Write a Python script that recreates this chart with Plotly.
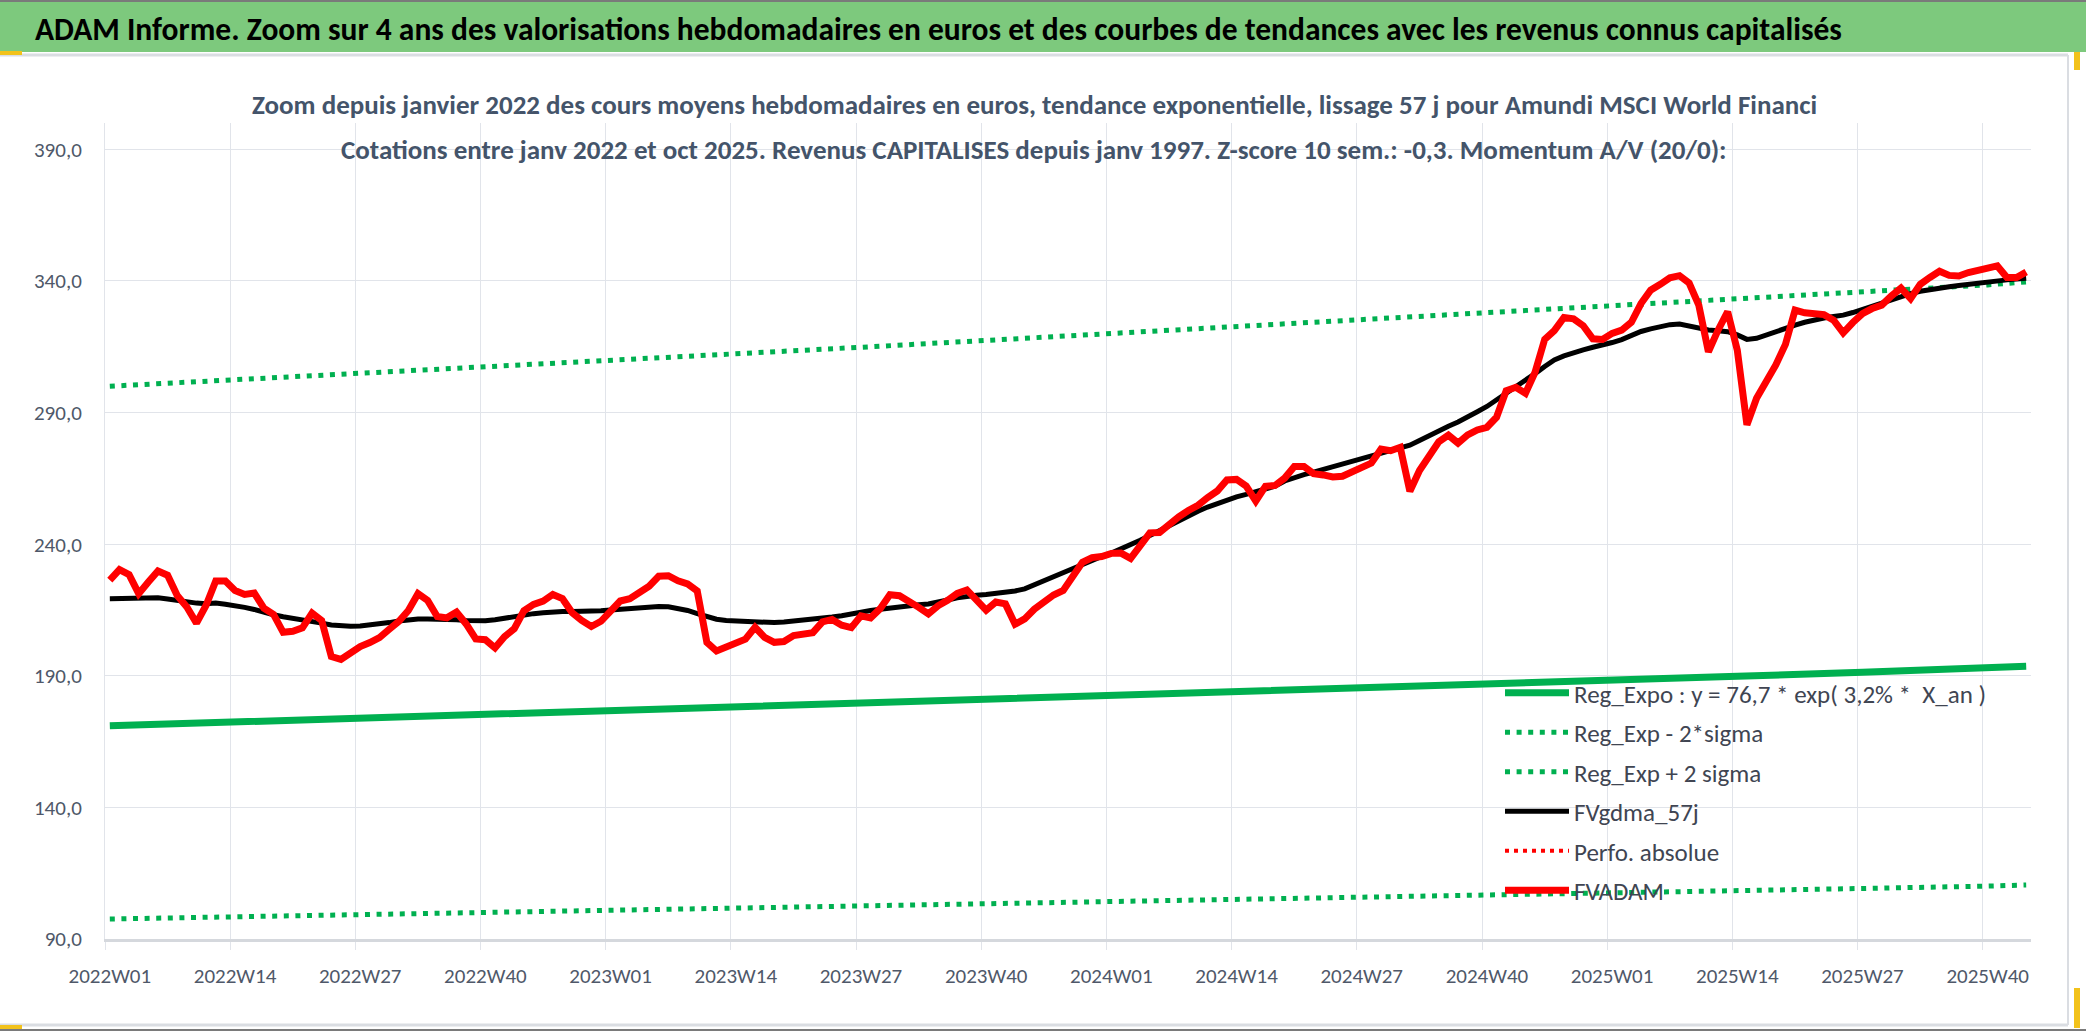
import plotly.graph_objects as go

W, H = 2086, 1031
L, R, T, B = 105, 2031, 123, 939

weeks = [f"{y}W{w:02d}" for y in (2022, 2023, 2024, 2025) for w in range(1, 53)][:200]

fvadam = [226.3, 230.3, 228.4, 221.2, 225.6, 229.8, 228.2, 220.5, 216.1, 210.0,
          216.8, 226.0, 226.0, 222.4, 220.9, 221.4, 215.7, 213.3, 206.5, 206.9,
          208.2, 213.8, 211.0, 197.3, 196.2, 198.7, 201.1, 202.6, 204.5, 207.6,
          210.6, 214.8, 221.2, 218.6, 212.5, 212.0, 214.2, 209.7, 204.0, 203.7,
          200.6, 204.9, 207.9, 214.7, 217.1, 218.4, 220.9, 219.3, 214.0, 211.0,
          208.7, 210.7, 214.8, 218.4, 219.3, 221.3, 224.0, 227.8, 228.0, 226.1,
          224.9, 222.2, 202.7, 199.4, 200.7, 202.5, 203.9, 208.4, 204.6, 202.7,
          203.0, 205.3, 205.9, 206.4, 210.5, 211.4, 209.2, 208.3, 212.8, 212.0,
          215.5, 220.8, 220.4, 218.4, 216.0, 213.5, 216.6, 218.7, 221.3, 222.6,
          218.9, 214.9, 218.0, 217.3, 209.6, 211.6, 215.3, 218.4, 220.7, 222.4,
          227.4, 233.1, 234.9, 235.3, 236.5, 236.6, 234.6, 239.5, 244.3, 244.4,
          247.7, 250.4, 252.8, 254.8, 257.7, 260.2, 264.4, 264.6, 262.1, 256.4,
          262.0, 262.3, 265.1, 269.5, 269.5, 266.8, 266.3, 265.5, 265.8, 267.7,
          269.5, 270.8, 276.1, 275.5, 276.8, 260.1, 268.0, 273.9, 278.9, 281.4,
          278.4, 281.5, 283.4, 284.4, 288.2, 298.3, 299.6, 297.3, 305.3, 317.8,
          321.1, 326.1, 325.6, 323.0, 318.0, 317.8, 320.1, 321.3, 324.3, 331.4,
          336.5, 338.7, 341.2, 342.0, 339.2, 330.8, 313.1, 321.3, 328.3, 313.7,
          285.3, 295.4, 301.4, 308.1, 315.9, 328.9, 327.9, 327.6, 327.2, 325.1,
          320.3, 324.2, 327.6, 329.5, 330.8, 334.3, 337.3, 333.3, 338.7, 341.3,
          343.7, 342.1, 341.9, 343.2, 344.2, 345.1, 345.7, 341.3, 341.3, 343.4]

fvgdma_57j = [219.3, 219.4, 219.5, 219.6, 219.6, 219.6, 219.2, 218.6, 218.0, 217.6,
              217.4, 217.6, 217.2, 216.7, 216.0, 215.2, 214.0, 213.2, 212.4, 211.9,
              211.4, 210.8, 210.0, 209.3, 208.9, 208.8, 208.9, 209.2, 209.7, 210.2,
              210.8, 211.3, 211.6, 211.6, 211.6, 211.4, 211.3, 211.0, 210.8, 210.9,
              211.3, 211.9, 212.7, 213.3, 213.6, 213.9, 214.3, 214.4, 214.4, 214.4,
              214.5, 214.7, 215.0, 215.3, 215.6, 215.8, 216.1, 216.3, 216.2, 215.6,
              214.8, 213.6, 212.3, 211.5, 211.0, 210.8, 210.6, 210.4, 210.2, 210.2,
              210.4, 210.7, 211.0, 211.4, 211.9, 212.3, 212.8, 213.6, 214.2, 214.8,
              215.3, 215.8, 216.2, 216.7, 217.0, 217.3, 217.9, 218.8, 219.6, 220.2,
              220.6, 220.9, 221.3, 221.6, 222.2, 223.0, 224.6, 226.1, 227.4, 229.0,
              230.7, 232.4, 234.0, 235.3, 236.6, 238.1, 239.7, 241.5, 243.3, 245.2,
              247.0, 248.9, 250.8, 252.5, 254.1, 255.5, 256.9, 258.0, 258.9, 259.8,
              260.8, 262.0, 264.0, 265.4, 266.4, 267.4, 268.4, 269.4, 270.5, 271.8,
              272.8, 273.4, 274.5, 275.6, 276.4, 277.6, 279.4, 281.3, 283.3, 284.8,
              286.4, 288.1, 290.3, 292.3, 294.8, 297.2, 299.3, 301.8, 304.8, 307.5,
              310.0, 311.5, 312.8, 313.8, 314.8, 315.6, 316.6, 317.7, 319.3, 320.8,
              321.8, 322.6, 323.4, 323.6, 322.8, 321.9, 321.4, 321.1, 320.7, 319.5,
              317.8, 318.2, 319.5, 321.0, 322.3, 323.2, 324.3, 325.2, 325.9, 326.5,
              327.0, 328.0, 329.2, 330.6, 331.8, 332.9, 334.0, 335.2, 336.1, 336.8,
              337.4, 337.8, 338.3, 338.8, 339.3, 339.7, 340.1, 340.4, 340.7, 341.0]

trend_weeks = ["2022W01", "2022W14", "2022W27", "2022W40", "2023W01", "2023W14",
               "2023W27", "2023W40", "2024W01", "2024W14", "2024W27", "2024W40",
               "2025W01", "2025W14", "2025W27", "2025W40", "2025W44"]
reg_expo = [171.0, 172.4, 173.8, 175.2, 176.6, 178.0, 179.4, 180.9, 182.4,
            183.8, 185.3, 186.8, 188.3, 189.8, 191.3, 192.9, 193.6]
reg_minus_2s = [97.6, 98.4, 99.2, 100.0, 100.8, 101.6, 102.4, 103.2, 104.1,
                104.9, 105.8, 106.6, 107.5, 108.3, 109.2, 110.1, 110.5]
reg_plus_2s = [300.0, 302.4, 304.8, 307.3, 309.8, 312.3, 314.8, 317.4, 320.0,
               322.5, 325.1, 327.8, 330.4, 333.1, 335.8, 338.5, 339.6]
perfo_absolue = [None]

title = ("ADAM Informe. Zoom sur 4 ans des valorisations hebdomadaires en euros "
         "et des courbes de tendances avec les revenus connus capitalisés")
sub1 = ("Zoom depuis janvier 2022 des cours moyens hebdomadaires en euros, tendance "
        "exponentielle, lissage 57 j pour Amundi MSCI World Financi")
sub2 = ("Cotations entre janv 2022 et oct 2025. Revenus CAPITALISES depuis janv 1997. "
        "Z-score 10 sem.: -0,3. Momentum A/V (20/0):")

FONT = "Carlito, Liberation Sans"
GREEN = "#00B050"
TXT = "#4F5869"


def px(xp):
    return (xp - L) / (R - L)


def py(yp):
    return (B - yp) / (B - T)


fig = go.Figure()
fig.add_trace(go.Scatter(x=trend_weeks, y=reg_expo, mode="lines", legendgroup="a",
                         name="Reg_Expo : y = 76,7 * exp( 3,2% * &nbsp;X_an )",
                         line=dict(color=GREEN, width=7)))
fig.add_trace(go.Scatter(x=trend_weeks, y=reg_minus_2s, mode="lines", legendgroup="b",
                         name="Reg_Exp - 2*sigma",
                         line=dict(color=GREEN, width=5, dash="5px,6.6px")))
fig.add_trace(go.Scatter(x=trend_weeks, y=reg_plus_2s, mode="lines", legendgroup="c",
                         name="Reg_Exp + 2 sigma",
                         line=dict(color=GREEN, width=5, dash="5px,6.6px")))
fig.add_trace(go.Scatter(x=weeks, y=fvgdma_57j, mode="lines", name="FVgdma_57j",
                         legendgroup="d", line=dict(color="black", width=5)))
fig.add_trace(go.Scatter(x=weeks[:1], y=perfo_absolue, mode="lines",
                         name="Perfo. absolue", legendgroup="e",
                         line=dict(color="#FF0000", width=4, dash="4px,5px")))
fig.add_trace(go.Scatter(x=weeks, y=fvadam, mode="lines", name="FVADAM",
                         legendgroup="f", line=dict(color="#FF0000", width=7)))

shapes = [
    dict(type="rect", xref="paper", yref="paper", x0=px(0), x1=px(W), y0=py(0), y1=py(52),
         fillcolor="#7DC97D", line=dict(width=0), layer="below"),
    dict(type="line", xref="paper", yref="paper", x0=px(0), x1=px(W), y0=py(1), y1=py(1),
         line=dict(color="#7A7A7A", width=2)),
    dict(type="line", xref="paper", yref="paper", x0=px(0), x1=px(2068), y0=py(55), y1=py(55),
         line=dict(color="#DADDE2", width=3)),
    dict(type="line", xref="paper", yref="paper", x0=px(0), x1=px(2068), y0=py(1025), y1=py(1025),
         line=dict(color="#DADDE2", width=3)),
    dict(type="line", xref="paper", yref="paper", x0=px(0), x1=px(W), y0=py(1030), y1=py(1030),
         line=dict(color="#7A7A7A", width=2)),
    dict(type="line", xref="paper", yref="paper", x0=px(2068), x1=px(2068), y0=py(55), y1=py(1025),
         line=dict(color="#DADDE2", width=2)),
    dict(type="rect", xref="paper", yref="paper", x0=px(0), x1=px(22), y0=py(51), y1=py(55),
         fillcolor="#F2C21B", line=dict(width=0)),
    dict(type="rect", xref="paper", yref="paper", x0=px(2074), x1=px(2080), y0=py(52), y1=py(70),
         fillcolor="#F2C21B", line=dict(width=0)),
    dict(type="rect", xref="paper", yref="paper", x0=px(2074), x1=px(2080), y0=py(988), y1=py(1028),
         fillcolor="#F2C21B", line=dict(width=0)),
    dict(type="rect", xref="paper", yref="paper", x0=px(0), x1=px(22), y0=py(1025), y1=py(1029),
         fillcolor="#F2C21B", line=dict(width=0)),
]

annotations = [
    dict(text=title, xref="paper", yref="paper", x=px(33), y=py(29), xanchor="left",
         yanchor="middle", showarrow=False,
         font=dict(family=FONT, size=31.5, color="black", weight="bold")),
    dict(text=sub1, xref="paper", yref="paper", x=px(1034), y=py(104), xanchor="center",
         yanchor="middle", showarrow=False,
         font=dict(family=FONT, size=27, color="#44546A", weight="bold")),
    dict(text=sub2, xref="paper", yref="paper", x=px(1034), y=py(149), xanchor="center",
         yanchor="middle", showarrow=False,
         font=dict(family=FONT, size=27, color="#44546A", weight="bold")),
]

fig.update_layout(
    width=W, height=H,
    margin=dict(l=L, r=W - R, t=T, b=H - B, pad=0),
    paper_bgcolor="white", plot_bgcolor="white",
    separators=", ",
    showlegend=True,
    legend=dict(x=px(1500), y=py(670), xanchor="left", yanchor="top",
                bgcolor="rgba(0,0,0,0)", font=dict(family=FONT, size=25, color="#404552"),
                itemwidth=64, tracegroupgap=4),
    shapes=shapes,
    annotations=annotations,
)
fig.update_xaxes(type="category", categoryorder="array", categoryarray=weeks,
                 range=[-0.5, 199.5], tickson="boundaries", dtick=13,
                 showgrid=True, gridcolor="#E1E4EA", gridwidth=1,
                 ticks="outside", ticklen=8, tickcolor="#E1E4EA",
                 showline=True, linecolor="#D5D8DD", linewidth=3,
                 ticklabelstandoff=16,
                 tickfont=dict(family=FONT, size=21, color=TXT), tickangle=0)
fig.update_yaxes(range=[90, 400], tick0=90, dtick=50, tickformat=".1f",
                 showgrid=True, gridcolor="#E1E4EA", gridwidth=1,
                 zeroline=False, showline=True, linecolor="#E1E4EA", linewidth=1,
                 ticks="", ticklabelstandoff=18,
                 tickfont=dict(family=FONT, size=21, color=TXT))

fig.write_html("out.html", config={"displayModeBar": False},
               post_script="document.body.style.margin='0';document.body.style.overflow='hidden';")
